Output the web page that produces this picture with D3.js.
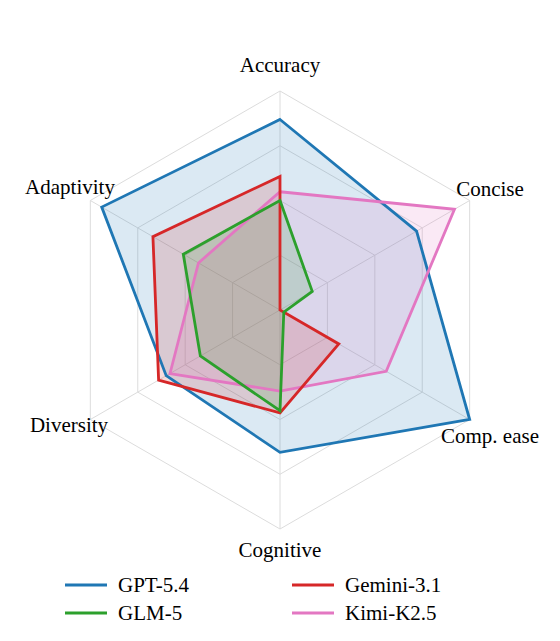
<!DOCTYPE html>
<html><head><meta charset="utf-8">
<script src="https://cdn.jsdelivr.net/npm/d3@7"></script>
<style>body{margin:0;background:#fff}svg{font-family:"Liberation Serif",serif}</style>
</head><body><svg id="c" width="560" height="641"></svg>
<script>
const axes = ["Accuracy", "Concise", "Comp. ease", "Cognitive", "Diversity", "Adaptivity"];
const models = ["GPT-5.4", "GLM-5", "Gemini-3.1", "Kimi-K2.5"];
const colors = ["#1f77b4", "#2ca02c", "#d62728", "#e377c2"];
const gptVals = [0.87, 0.72, 1.0, 0.65, 0.6, 0.94];
const glmVals = [0.5, 0.17, 0.02, 0.46, 0.42, 0.51];
const geminiVals = [0.61, 0.0, 0.31, 0.47, 0.64, 0.67];
const kimiVals = [0.54, 0.92, 0.56, 0.37, 0.58, 0.43];
const series = [gptVals, glmVals, geminiVals, kimiVals];
const rings = [0.25, 0.5, 0.75, 1];

const svg = d3.select("#c");
const cx = 280, cy = 310;
const r = d3.scaleLinear().domain([0, 1]).range([0, 219]);
const ang = i => i * Math.PI / 3;
const pt = (i, v) => [cx + r(v) * Math.sin(ang(i)), cy - r(v) * Math.cos(ang(i))];

const g = svg.append("g");
rings.forEach(v => {
  g.append("polygon").attr("points", axes.map((_, i) => pt(i, v)).join(" "))
    .attr("fill", "none").attr("stroke", "#dcdcdc").attr("stroke-width", 1);
});
axes.forEach((_, i) => {
  const [x, y] = pt(i, 1);
  g.append("line").attr("x1", cx).attr("y1", cy).attr("x2", x).attr("y2", y)
    .attr("stroke", "#dcdcdc").attr("stroke-width", 1);
});

// fills first, then outlines (order as in reference)
const order = [0, 3, 2, 1];
order.forEach(k => {
  g.append("polygon").attr("points", series[k].map((v, i) => pt(i, v)).join(" "))
    .attr("fill", colors[k]).attr("fill-opacity", 0.16).attr("stroke", "none");
});
order.forEach(k => {
  g.append("polygon").attr("points", series[k].map((v, i) => pt(i, v)).join(" "))
    .attr("fill", "none").attr("stroke", colors[k]).attr("stroke-width", 2.8)
    .attr("stroke-linejoin", "miter");
});

const labelPos = [[280, 72, "middle"], [490, 196, "middle"], [490, 443, "middle"],
                  [280, 557, "middle"], [69, 432, "middle"], [70, 194, "middle"]];
axes.forEach((a, i) => {
  svg.append("text").attr("x", labelPos[i][0]).attr("y", labelPos[i][1])
    .attr("text-anchor", labelPos[i][2]).attr("font-size", 21).text(a);
});

const leg = [[65, 585], [292, 585], [65, 613], [292, 613]];
const legOrder = [0, 2, 1, 3];
legOrder.forEach((k, j) => {
  const [x, y] = leg[j];
  svg.append("line").attr("x1", x).attr("x2", x + 42).attr("y1", y).attr("y2", y)
    .attr("stroke", colors[k]).attr("stroke-width", 3);
  svg.append("text").attr("x", x + 53).attr("y", y + 7).attr("font-size", 21).text(models[k]);
});
</script></body></html>
